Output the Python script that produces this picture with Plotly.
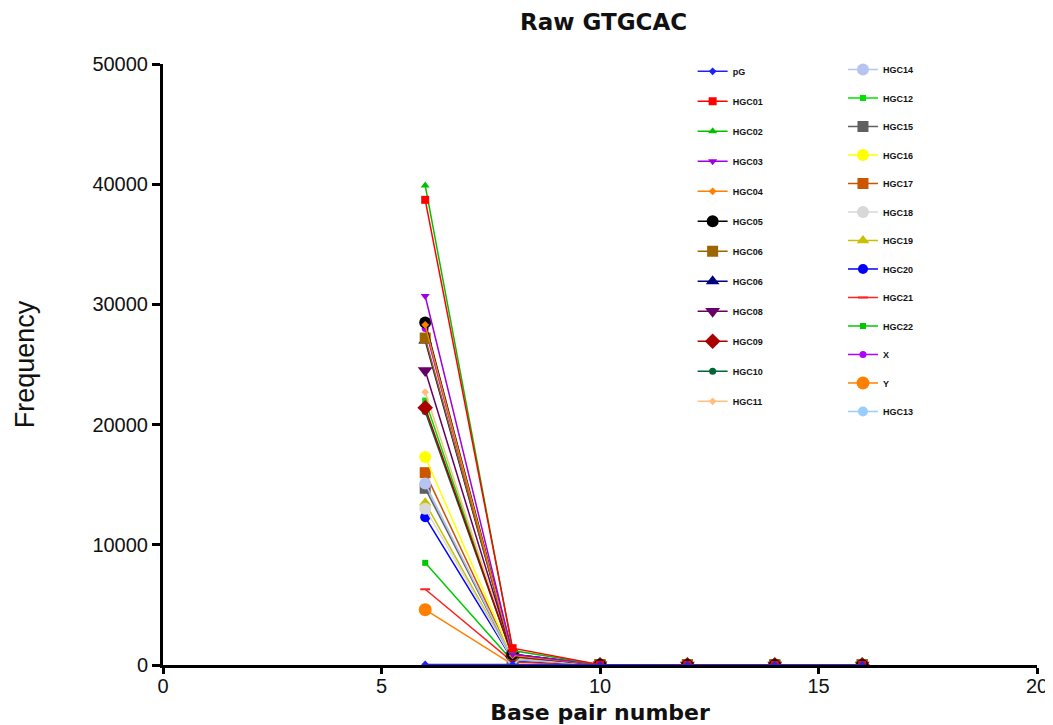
import plotly.graph_objects as go

x_bp = [6, 8, 10, 12, 14, 16]

names = ["pG", "HGC01", "HGC02", "HGC03", "HGC04", "HGC05", "HGC06", "HGC06 ", "HGC08",
         "HGC09", "HGC10", "HGC11",
         "HGC14", "HGC12", "HGC15", "HGC16", "HGC17", "HGC18", "HGC19", "HGC20",
         "HGC21", "HGC22", "X", "Y", "HGC13"]

values = {
    "pG":     [50, 20, 0, 0, 0, 0],
    "HGC01":  [38700, 1400, 30, 20, 10, 10],
    "HGC02":  [39900, 1200, 30, 20, 10, 10],
    "HGC03":  [30700, 900, 20, 10, 10, 10],
    "HGC04":  [28300, 800, 20, 10, 10, 10],
    "HGC05":  [28500, 900, 20, 10, 10, 10],
    "HGC06":  [27200, 850, 20, 10, 10, 10],
    "HGC06 ": [27000, 800, 20, 10, 10, 10],
    "HGC08":  [24500, 800, 20, 10, 10, 10],
    "HGC09":  [21400, 700, 20, 10, 10, 10],
    "HGC10":  [21100, 700, 20, 10, 10, 10],
    "HGC11":  [22700, 700, 20, 10, 10, 10],
    "HGC14":  [15100, 500, 10, 10, 10, 10],
    "HGC12":  [22000, 700, 20, 10, 10, 10],
    "HGC15":  [14700, 500, 10, 10, 10, 10],
    "HGC16":  [17300, 600, 10, 10, 10, 10],
    "HGC17":  [16000, 550, 10, 10, 10, 10],
    "HGC18":  [13000, 450, 10, 10, 10, 10],
    "HGC19":  [13500, 450, 10, 10, 10, 10],
    "HGC20":  [12300, 400, 10, 10, 10, 10],
    "HGC21":  [6300, 250, 10, 10, 10, 10],
    "HGC22":  [8500, 300, 10, 10, 10, 10],
    "X":      [28000, 900, 20, 10, 10, 10],
    "Y":      [4600, 50, 0, 0, 0, 0],
    "HGC13":  [15000, 500, 10, 10, 10, 10],
}

colors = {
    "pG": "#2020ff", "HGC01": "#ff0000", "HGC02": "#00c000", "HGC03": "#a000e0",
    "HGC04": "#ff8000", "HGC05": "#000000", "HGC06": "#996600", "HGC06 ": "#000080",
    "HGC08": "#660066", "HGC09": "#aa0000", "HGC10": "#006633", "HGC11": "#ffbf80",
    "HGC14": "#b8c4f0", "HGC12": "#00e000", "HGC15": "#606060", "HGC16": "#ffff00",
    "HGC17": "#cc5500", "HGC18": "#d8d8d8", "HGC19": "#c8c000", "HGC20": "#0000ff",
    "HGC21": "#ff2020", "HGC22": "#00c800", "X": "#b000ff", "Y": "#ff8000",
    "HGC13": "#99ccff",
}

symbols = {
    "pG": ("diamond", 6), "HGC01": ("square", 8), "HGC02": ("triangle-up", 8),
    "HGC03": ("triangle-down", 8), "HGC04": ("diamond", 6), "HGC05": ("circle", 12),
    "HGC06": ("square", 11), "HGC06 ": ("triangle-up", 12), "HGC08": ("triangle-down", 13),
    "HGC09": ("diamond", 12), "HGC10": ("circle", 7), "HGC11": ("diamond", 6),
    "HGC14": ("circle", 12), "HGC12": ("square", 6), "HGC15": ("square", 11),
    "HGC16": ("circle", 12), "HGC17": ("square", 11), "HGC18": ("circle", 12),
    "HGC19": ("triangle-up", 11), "HGC20": ("circle", 10), "HGC21": ("line-ew-open", 7),
    "HGC22": ("square", 6), "X": ("circle", 7), "Y": ("circle", 13),
    "HGC13": ("circle", 10),
}

y_ticks = [0, 10000, 20000, 30000, 40000, 50000]
y_tick_text = ["0", "10000", "20000", "30000", "40000", "50000"]
x_ticks = [0, 5, 10, 15, 20]

col1 = names[:12]

fig = go.Figure()
# draw in reverse so the first series sits on top, legend order kept with legendrank
for rank, n in reversed(list(enumerate(names))):
    sym, sz = symbols[n]
    fig.add_trace(go.Scatter(
        x=x_bp, y=values[n], name=n.strip(), mode="lines+markers",
        line=dict(color=colors[n], width=1.5),
        marker=dict(symbol=sym, size=sz, color=colors[n],
                    line=dict(color=colors[n], width=2 if sym.startswith("line") else 0)),
        legendgroup=n, legendrank=rank + 1,
        legend="legend" if n in col1 else "legend2",
    ))

FONT = "Liberation Sans, Arial"
leg_font = dict(family=FONT, size=9, color="#111111", weight="bold")

# page body has an 8px margin, so the figure is sized 8px smaller than the window
fig.update_layout(
    width=1045, height=717,
    paper_bgcolor="white", plot_bgcolor="white",
    margin=dict(l=155, r=16, t=56, b=60, autoexpand=False),
    title=dict(text="<b>Raw GTGCAC</b>", x=0.57, xanchor="center", y=0.9805, yanchor="middle",
               font=dict(family="DejaVu Sans", size=23, color="#111111")),
    xaxis=dict(range=[0, 20], tickvals=x_ticks, showgrid=False, zeroline=False,
               automargin=False,
               showline=True, linecolor="black", linewidth=3, ticks="outside", ticklen=6,
               tickwidth=3, tickcolor="black", ticklabelstandoff=-5,
               tickfont=dict(family=FONT, size=20, color="#111111"),
               title=dict(text="<b>Base pair number</b>", standoff=12,
                          font=dict(family="DejaVu Sans", size=22, color="#111111"))),
    yaxis=dict(range=[0, 50000], tickvals=y_ticks, ticktext=y_tick_text,
               automargin=False,
               showgrid=False, zeroline=False, showline=True, linecolor="black", linewidth=3,
               ticks="outside", ticklen=8, tickwidth=3, tickcolor="black",
               tickfont=dict(family=FONT, size=20, color="#111111"),
               title=dict(text="Frequency", standoff=50,
                          font=dict(family=FONT, size=27, color="#111111"))),
    legend=dict(x=0.606, y=1.012, font=leg_font, bgcolor="rgba(0,0,0,0)", maxheight=650,
                tracegroupgap=11, itemwidth=30, xanchor="left", yanchor="top"),
    legend2=dict(x=0.778, y=1.015, font=leg_font, bgcolor="rgba(0,0,0,0)", maxheight=650,
                 tracegroupgap=9.5, itemwidth=30, xanchor="left", yanchor="top"),
    showlegend=True,
)

fig.write_html("out.html")
